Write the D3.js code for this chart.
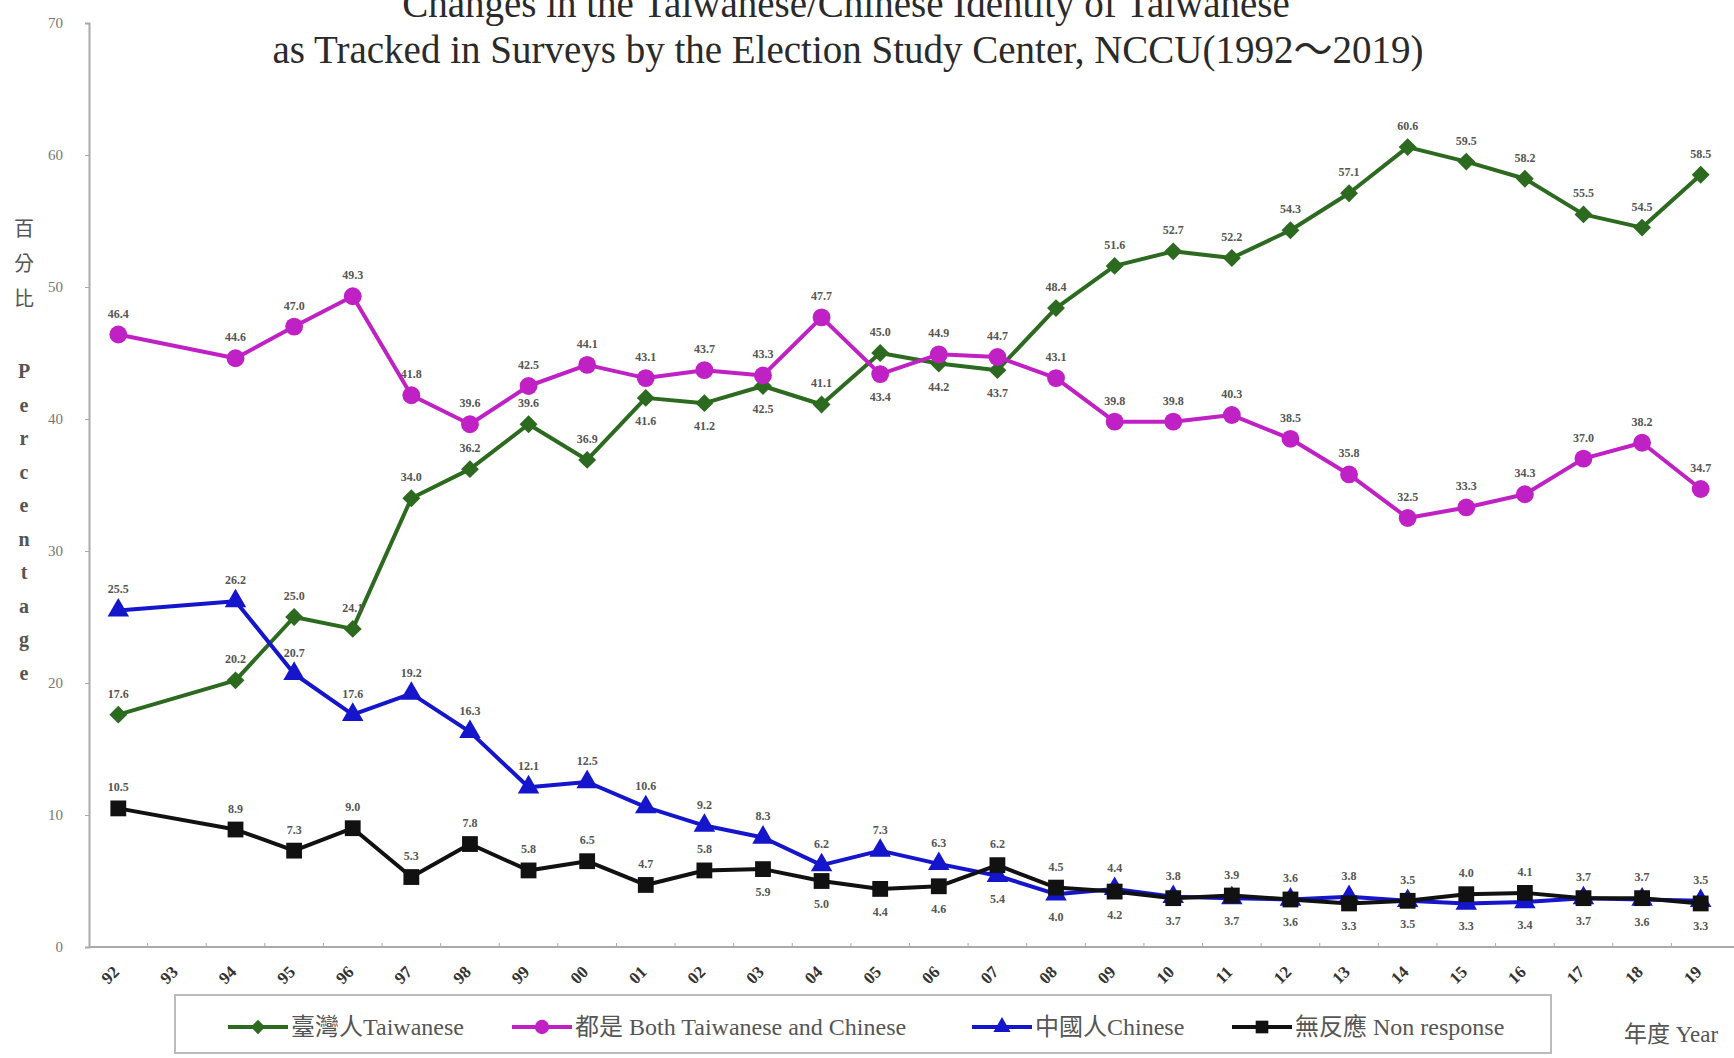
<!DOCTYPE html>
<html>
<head>
<meta charset="utf-8">
<script src="https://cdn.jsdelivr.net/npm/d3@7"></script>
<style>
  body { margin: 0; background: #fff; }
  svg { display: block; }
</style>
</head>
<body>
<div id="container"></div>
<script>
let w = 1734;
let h = 1058;

// survey years (two-digit), 93 has no survey
const years = ["92", "93", "94", "95", "96", "97", "98", "99", "00", "01", "02", "03", "04", "05",
  "06", "07", "08", "09", "10", "11", "12", "13", "14", "15", "16", "17", "18", "19"];

const taiwanese = [17.6, null, 20.2, 25.0, 24.1, 34.0, 36.2, 39.6, 36.9, 41.6, 41.2, 42.5, 41.1, 45.0,
  44.2, 43.7, 48.4, 51.6, 52.7, 52.2, 54.3, 57.1, 60.6, 59.5, 58.2, 55.5, 54.5, 58.5];
const both = [46.4, null, 44.6, 47.0, 49.3, 41.8, 39.6, 42.5, 44.1, 43.1, 43.7, 43.3, 47.7, 43.4,
  44.9, 44.7, 43.1, 39.8, 39.8, 40.3, 38.5, 35.8, 32.5, 33.3, 34.3, 37.0, 38.2, 34.7];
const chinese = [25.5, null, 26.2, 20.7, 17.6, 19.2, 16.3, 12.1, 12.5, 10.6, 9.2, 8.3, 6.2, 7.3,
  6.3, 5.4, 4.0, 4.4, 3.8, 3.7, 3.6, 3.8, 3.5, 3.3, 3.4, 3.7, 3.6, 3.5];
const nonResponse = [10.5, null, 8.9, 7.3, 9.0, 5.3, 7.8, 5.8, 6.5, 4.7, 5.8, 5.9, 5.0, 4.4,
  4.6, 6.2, 4.5, 4.2, 3.7, 3.9, 3.6, 3.3, 3.5, 4.0, 4.1, 3.7, 3.7, 3.3];

const yTicks = [0, 10, 20, 30, 40, 50, 60, 70];

const legendLabels = ["臺灣人Taiwanese", "都是 Both Taiwanese and Chinese", "中國人Chinese", "無反應 Non response"];

const serif = "'Liberation Serif', 'Times New Roman', 'Noto Sans CJK TC', serif";

let viz = d3.select("#container")
  .append("svg")
  .attr("width", w)
  .attr("height", h)
  .style("background-color", "white");

let x = d3.scaleBand().domain(years).range([89, 1730]);
let y = d3.scaleLinear().domain([0, 70]).range([947, 23]);

// title (top line runs off the top edge, as in the source picture)
viz.append("text")
  .attr("x", 846).attr("y", 17)
  .attr("text-anchor", "middle")
  .attr("font-family", serif).attr("font-size", 39).attr("fill", "#2a2a2a")
  .text("Changes in the Taiwanese/Chinese Identity of Taiwanese");
viz.append("text")
  .attr("x", 848).attr("y", 63)
  .attr("text-anchor", "middle")
  .attr("font-family", serif).attr("font-size", 39).attr("fill", "#2a2a2a")
  .text("as Tracked in Surveys by the Election Study Center, NCCU(1992～2019)");

// y axis
let yAxis = viz.append("g")
  .attr("transform", "translate(89,0)")
  .call(d3.axisLeft(y).tickValues(yTicks).tickSize(4).tickPadding(22));
yAxis.select(".domain").attr("stroke", "#aaa").attr("stroke-width", 2);
yAxis.selectAll(".tick line").attr("stroke", "#aaa");
yAxis.selectAll("text").attr("font-family", serif).attr("font-size", 15).attr("fill", "#777");

// x axis
let xAxisG = viz.append("g").attr("transform", "translate(0,947)");
xAxisG.append("line")
  .attr("x1", 89).attr("x2", w).attr("y1", 0).attr("y2", 0)
  .attr("stroke", "#aaa").attr("stroke-width", 2);
xAxisG.selectAll(".xtick")
  .data(years.slice(1))
  .join("line")
  .attr("x1", d => x(d)).attr("x2", d => x(d))
  .attr("y1", 0).attr("y2", -4)
  .attr("stroke", "#aaa");
xAxisG.selectAll(".xlab")
  .data(years)
  .join("text")
  .attr("transform", d => `translate(${x(d) + x.bandwidth() / 2 - 4},32) rotate(-45)`)
  .attr("text-anchor", "middle")
  .attr("font-family", serif).attr("font-size", 17).attr("font-weight", "bold").attr("fill", "#333")
  .text(d => d);

// y axis title, stacked vertically
let yTitle = ["百", "分", "比"];
viz.selectAll(".ycjk")
  .data(yTitle)
  .join("text")
  .attr("x", 24).attr("y", (d, i) => 236 + i * 35)
  .attr("text-anchor", "middle")
  .attr("font-family", "'Noto Sans CJK TC', sans-serif").attr("font-size", 20).attr("fill", "#555")
  .text(d => d);
viz.selectAll(".ylat")
  .data("Percentage".split(""))
  .join("text")
  .attr("x", 24).attr("y", (d, i) => 378 + i * 33.5)
  .attr("text-anchor", "middle")
  .attr("font-family", serif).attr("font-size", 20).attr("font-weight", "bold").attr("fill", "#555")
  .text(d => d);

// series
let series = [
  { name: legendLabels[0], values: taiwanese, color: "#2c6a1f", shape: "diamond" },
  { name: legendLabels[1], values: both, color: "#c021c4", shape: "circle" },
  { name: legendLabels[2], values: chinese, color: "#1515cc", shape: "triangle" },
  { name: legendLabels[3], values: nonResponse, color: "#111111", shape: "square" }
];

function markerPath(shape, scale) {
  let s = scale || 1;
  if (shape === "diamond") return d3.symbol(d3.symbolSquare, 160 * s * s)();
  if (shape === "circle") return d3.symbol(d3.symbolCircle, 250 * s * s)();
  if (shape === "triangle") return d3.symbol(d3.symbolTriangle, 200 * s * s)();
  return d3.symbol(d3.symbolSquare, 250 * s * s)();
}

// label goes below its point when it sits just under its neighbour series
function labelBelow(a, b, thr, tieBelow) {
  return a.map((v, i) => {
    if (v == null) return false;
    let o = b[i];
    if (Math.abs(v - o) >= thr) return false;
    if (v === o) return tieBelow;
    return v < o;
  });
}
series[0].below = labelBelow(taiwanese, both, 2.6, true);
series[1].below = labelBelow(both, taiwanese, 2.6, false);
series[2].below = labelBelow(chinese, nonResponse, 3, true);
series[3].below = labelBelow(nonResponse, chinese, 3, false);

let line = d3.line()
  .x(d => x(d.year) + x.bandwidth() / 2)
  .y(d => y(d.value));

series.forEach(s => {
  let pts = years.map((yr, i) => ({ year: yr, value: s.values[i], below: s.below[i] }))
    .filter(d => d.value != null);
  let g = viz.append("g");
  g.append("path")
    .datum(pts)
    .attr("d", line)
    .attr("fill", "none")
    .attr("stroke", s.color)
    .attr("stroke-width", 4)
    .attr("stroke-linejoin", "round");
  g.selectAll(".mk")
    .data(pts)
    .join("path")
    .attr("d", markerPath(s.shape))
    .attr("transform", d => `translate(${x(d.year) + x.bandwidth() / 2},${y(d.value)})` +
      (s.shape === "diamond" ? " rotate(45)" : ""))
    .attr("fill", s.color);
  s.pts = pts;
});

// data labels on top of everything
series.forEach(s => {
  viz.append("g").selectAll("text")
    .data(s.pts)
    .join("text")
    .attr("x", d => x(d.year) + x.bandwidth() / 2)
    .attr("y", d => y(d.value) + (d.below ? 27 : -17))
    .attr("text-anchor", "middle")
    .attr("font-family", serif).attr("font-size", 12).attr("font-weight", "bold").attr("fill", "#555")
    .text(d => d.value.toFixed(1));
});

// legend
viz.append("rect")
  .attr("x", 175).attr("y", 995).attr("width", 1376).attr("height", 58)
  .attr("fill", "none").attr("stroke", "#bbb").attr("stroke-width", 2);
let legendX = [228, 512, 972, 1232];
series.forEach((s, i) => {
  let lg = viz.append("g").attr("transform", `translate(${legendX[i]},1027)`);
  lg.append("line").attr("x1", 0).attr("x2", 60).attr("y1", 0).attr("y2", 0)
    .attr("stroke", s.color).attr("stroke-width", 4);
  lg.append("path")
    .attr("d", markerPath(s.shape, 0.8))
    .attr("transform", "translate(30,0)" + (s.shape === "diamond" ? " rotate(45)" : ""))
    .attr("fill", s.color);
  lg.append("text")
    .attr("x", 63).attr("y", 8)
    .attr("font-family", serif).attr("font-size", 24).attr("fill", "#555")
    .text(s.name);
});

viz.append("text")
  .attr("x", 1624).attr("y", 1042)
  .attr("font-family", serif).attr("font-size", 23).attr("fill", "#555")
  .text("年度 Year");
</script>
</body>
</html>
